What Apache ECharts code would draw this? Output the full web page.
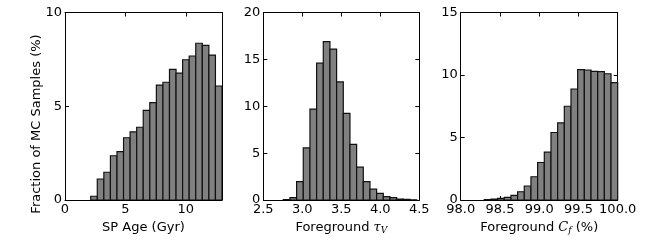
<!DOCTYPE html>
<html><head><meta charset="utf-8">
<script src="https://cdn.jsdelivr.net/npm/echarts@6/dist/echarts.min.js"></script>
<style>html,body{margin:0;padding:0;background:#fff}#c{width:650px;height:250px}</style>
</head><body><div id="c"></div>
<script>
// ---- data ----
const ageBinStart = 2.13, ageBinWidth = 0.5435;
const ageValues = [0.2,1.12,1.48,2.36,2.58,3.32,3.63,3.88,4.78,5.19,6.13,6.28,6.97,6.77,7.48,7.68,8.36,8.25,7.73,6.08];
const tauBinStart = 2.756, tauBinWidth = 0.0855;
const tauValues = [0.05,0.25,1.95,5.55,9.7,14.6,16.9,16.1,12.6,9.25,5.94,3.5,1.97,1.15,0.7,0.36,0.25,0.1,0.07,0.02];
const cfBinStart = 98.30, cfBinWidth = 0.085;
const cfValues = [0.03,0.08,0.13,0.21,0.37,0.66,1.12,1.86,3.0,3.83,5.4,6.17,7.5,8.88,10.43,10.4,10.29,10.27,10.1,9.39];
const xRanges = [[0,13,5],[2.5,4.5,0.5],[98,100,0.5]];
const yRanges = [[0,10,5],[0,20,5],[0,15,5]];
const xDecimals = [0,1,1];

function bins(start, w, vals){ return vals.map((v,i)=>[start+i*w, start+(i+1)*w, v]); }

const FONT = 'DejaVu Sans';
const grids = [
  {left:65, top:12.5, width:157, height:187.5},
  {left:263.3, top:12.5, width:156, height:187.5},
  {left:460.7, top:12.5, width:157, height:187.5}
];
const axisLine = {show:true, onZero:false, lineStyle:{color:'#000', width:1}};
const tick = {show:true, inside:true, length:4, lineStyle:{color:'#000'}};
const xAxis = [], yAxis = [];
const xNames = [
  {name:'SP Age (Gyr)'},
  {name:'{n|Foreground }{i|τ}{s|V}'},
  {name:'{n|Foreground }{i|C}{s|f}{n| (%)}'}
];
const rich = {
  n:{fontSize:13, fontFamily:FONT, color:'#000'},
  i:{fontSize:13, fontFamily:'DejaVu Serif', fontStyle:'italic', color:'#000'},
  s:{fontSize:9, fontFamily:'DejaVu Serif', fontStyle:'italic', color:'#000', padding:[7,0,0,0]}
};
for (let g=0; g<3; g++){
  const [mn,mx,iv] = xRanges[g];
  xAxis.push({type:'value', gridIndex:g, position:'bottom', min:mn, max:mx, interval:iv,
    axisLine, axisTick:tick, splitLine:{show:false},
    axisLabel:{color:'#000', fontFamily:FONT, fontSize:13, margin:3, showMaxLabel: (mx-mn)%iv===0,
      formatter:v=>v.toFixed(xDecimals[g])},
    name:xNames[g].name, nameLocation:'middle', nameGap:14,
    nameTextStyle:{color:'#000', fontFamily:FONT, fontSize:13, rich}
  });
}
for (let g=0; g<3; g++){
  const [mn,mx,iv] = xRanges[g];
  xAxis.push({type:'value', gridIndex:g, position:'top', min:mn, max:mx, interval:iv,
    axisLine, axisTick:tick, axisLabel:{show:false}, splitLine:{show:false}});
}
for (let g=0; g<3; g++){
  const [mn,mx,iv] = yRanges[g];
  yAxis.push({type:'value', gridIndex:g, position:'left', min:mn, max:mx, interval:iv,
    axisLine, axisTick:tick, splitLine:{show:false},
    axisLabel:{color:'#000', fontFamily:FONT, fontSize:13, margin:3}});
}
for (let g=0; g<3; g++){
  const [mn,mx,iv] = yRanges[g];
  yAxis.push({type:'value', gridIndex:g, position:'right', min:mn, max:mx, interval:iv,
    axisLine, axisTick:tick, axisLabel:{show:false}, splitLine:{show:false}});
}
function renderItem(params, api){
  const p0 = api.coord([api.value(0), api.value(2)]);
  const p1 = api.coord([api.value(1), 0]);
  return {type:'rect', shape:{x:p0[0], y:p0[1], width:p1[0]-p0[0], height:p1[1]-p0[1]},
    style:{fill:'#808080', stroke:'#111', lineWidth:1.2}};
}
const datasets = [bins(ageBinStart, ageBinWidth, ageValues), bins(tauBinStart, tauBinWidth, tauValues), bins(cfBinStart, cfBinWidth, cfValues)];
const series = datasets.map((d,g)=>({type:'custom', xAxisIndex:g, yAxisIndex:g, renderItem, data:d,
  encode:{x:[0,1], y:2}, clip:true, silent:true}));
const chart = echarts.init(document.getElementById('c'), null, {renderer:'canvas'});
chart.setOption({
  animation:false, backgroundColor:'#fff',
  grid: grids, xAxis, yAxis, series,
  graphic:[{type:'text', x:37, y:124, rotation:Math.PI/2,
    style:{text:'Fraction of MC Samples (%)', fill:'#000', font:'13px "DejaVu Sans"', textAlign:'center', textVerticalAlign:'middle'}}]
});
</script></body></html>
